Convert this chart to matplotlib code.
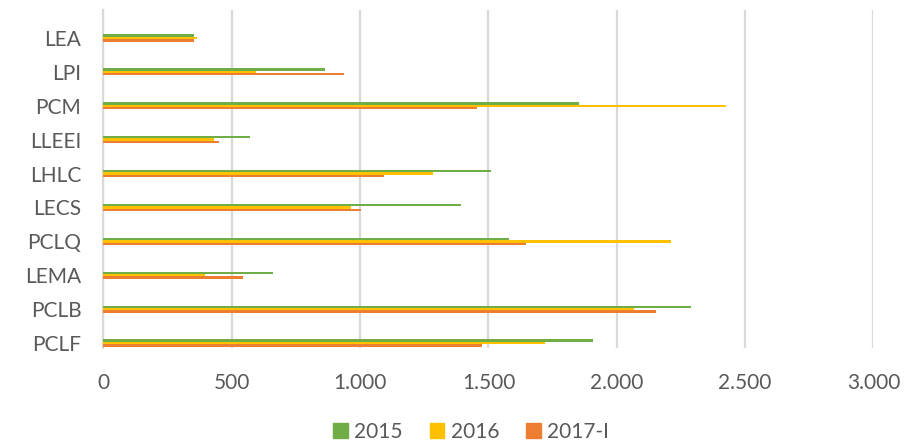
import numpy as np
import matplotlib.pyplot as plt
from matplotlib.patches import Patch
from matplotlib.ticker import FuncFormatter

# Categories listed top to bottom
categories = ['LEA', 'LPI', 'PCM', 'LLEEI', 'LHLC', 'LECS', 'PCLQ', 'LEMA', 'PCLB', 'PCLF']
series_names = ['2015', '2016', '2017-I']
vals_2015 = [353, 864, 1851, 571, 1510, 1393, 1580, 661, 2288, 1908]
vals_2016 = [363, 593, 2425, 430, 1285, 963, 2210, 394, 2067, 1721]
vals_2017 = [353, 938, 1455, 449, 1093, 1002, 1645, 545, 2152, 1473]
x_ticks = [0, 500, 1000, 1500, 2000, 2500, 3000]

colors = ['#70AD47', '#FFC000', '#ED7D31']
text_color = '#595959'
grid_color = '#D9D9D9'
font = 'Lato'

fig = plt.figure(figsize=(9.24, 4.44), dpi=100, facecolor='w')
ax = fig.add_axes([0.112, 0.2162, 0.8333, 0.7613])

pos = np.arange(len(categories))
h = 0.071
for k, (vals, c, name) in enumerate(zip([vals_2015, vals_2016, vals_2017], colors, series_names)):
    ax.barh(pos + (k - 1) * h, vals, height=h, color=c, label=name, zorder=3)

ax.set_xlim(0, 3000)
ax.set_ylim(9.147, -0.826)
ax.set_xticks(x_ticks)
ax.xaxis.set_major_formatter(FuncFormatter(lambda v, p: f'{int(v):,}'.replace(',', '.')))
ax.set_yticks(pos)
ax.set_yticklabels(categories)

ax.grid(axis='x', color=grid_color, lw=1.6, zorder=0)
ax.tick_params(length=0, labelsize=15, colors=text_color)
ax.tick_params(axis='y', pad=16)
ax.tick_params(axis='x', pad=18)
for lab in ax.get_xticklabels() + ax.get_yticklabels():
    lab.set_fontfamily(font)
for spine in ('top', 'right', 'bottom'):
    ax.spines[spine].set_visible(False)
ax.spines['left'].set_color(grid_color)
ax.spines['left'].set_linewidth(1.6)

handles = [Patch(color=c) for c in colors]
fig.legend(handles, series_names, loc='center', bbox_to_anchor=(0.51, 0.027),
           ncol=3, frameon=False, handlelength=0.7, handleheight=0.7,
           handletextpad=0.3, columnspacing=1.3,
           prop={'family': font, 'size': 15}, labelcolor=text_color)

fig.savefig('out.png', dpi=100, facecolor='w')
